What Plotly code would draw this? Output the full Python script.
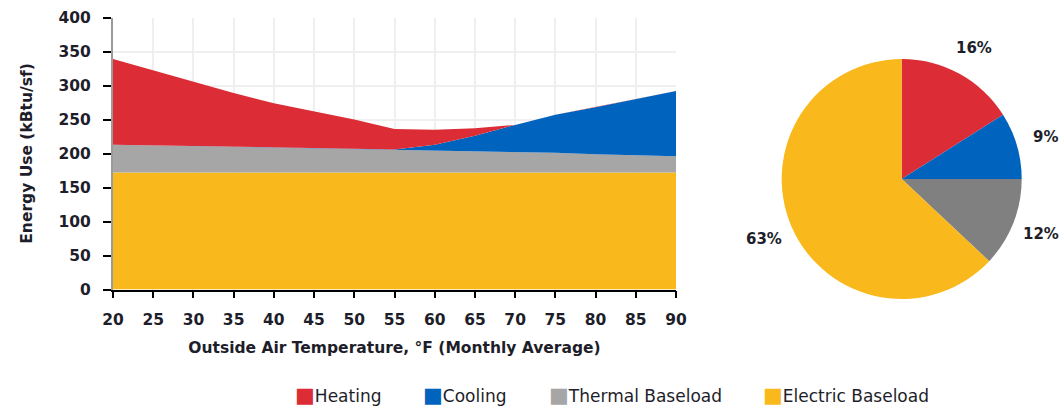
import math
import plotly.graph_objects as go

# Monthly-average outdoor temperature bins (°F)
temps = [20, 25, 30, 35, 40, 45, 50, 55, 60, 65, 70, 75, 80, 85, 90]

# Energy use by end use (kBtu/sf), stacked bottom-up
electric_baseload = [172, 172, 172, 172, 172, 172, 172, 172, 172, 172, 172, 172, 172, 172, 172]
thermal_baseload = [41, 40, 39, 38, 37, 36, 35, 34, 33, 32, 31, 29, 27, 25, 24]
cooling = [0, 0, 0, 0, 0, 0, 0, 0, 8, 22, 39, 56, 69, 83, 96]
heating = [126, 110, 94, 79, 65, 54, 43, 30, 22, 11, 0, 0, 0, 0, 0]

# Annual share by end use (%)
share_labels = ["Heating", "Cooling", "Thermal Baseload", "Electric Baseload"]
share_values = [16, 9, 12, 63]

y_ticks = [0, 50, 100, 150, 200, 250, 300, 350, 400]

RED = "#DC2D37"
BLUE = "#0063BE"
GRAY = "#A6A6A6"
PIE_GRAY = "#808080"
YELLOW = "#F9B81C"
TXT = "#1E1E2A"
FONT = "DejaVu Sans"

W, H = 1064, 408

fig = go.Figure()

stack = [
    ("Electric Baseload", electric_baseload, YELLOW),
    ("Thermal Baseload", thermal_baseload, GRAY),
    ("Cooling", cooling, BLUE),
    ("Heating", heating, RED),
]
for name, vals, col in stack:
    fig.add_trace(go.Scatter(
        x=temps, y=vals, name=name, stackgroup="energy",
        mode="lines", line=dict(width=0, color=col), fillcolor=col,
        showlegend=False, hoverinfo="x+y+name",
    ))

# Pie of annual shares, placed right of the area chart
pie_cx, pie_cy, pie_r = 901.7, 179.0, 120.0
pie_colors = [RED, BLUE, PIE_GRAY, YELLOW]
fig.add_trace(go.Pie(
    labels=share_labels, values=share_values,
    marker=dict(colors=pie_colors, line=dict(width=0)),
    sort=False, direction="clockwise", rotation=0,
    textinfo="none", showlegend=False,
    domain=dict(x=[(pie_cx - pie_r) / W, (pie_cx + pie_r) / W],
                y=[(H - pie_cy - pie_r) / H, (H - pie_cy + pie_r) / H]),
))

annotations = []

# Percentage labels just outside each slice, at the slice's mid angle
total = sum(share_values)
cum = 0.0
label_dist = pie_r * 1.25
for v in share_values:
    mid = (cum + v / 2) / total * 2 * math.pi
    cum += v
    px = pie_cx + label_dist * math.sin(mid)
    py = pie_cy - label_dist * math.cos(mid)
    annotations.append(dict(
        x=px / W, y=(H - py) / H, xref="paper", yref="paper",
        text=f"{v}%", showarrow=False, xanchor="center", yanchor="middle",
        font=dict(family=FONT, size=15, color=TXT, weight="bold"),
    ))

# Legend row along the bottom
legend_x = {"Heating": 294, "Cooling": 422, "Thermal Baseload": 548, "Electric Baseload": 762}
legend_colors = {"Heating": RED, "Cooling": BLUE, "Thermal Baseload": GRAY, "Electric Baseload": YELLOW}
for name in ["Heating", "Cooling", "Thermal Baseload", "Electric Baseload"]:
    annotations.append(dict(
        x=legend_x[name] / W, y=0, xref="paper", yref="paper",
        text=f'<span style="color:{legend_colors[name]};font-size:21px">■</span>{name}',
        showarrow=False, xanchor="left", yanchor="bottom", align="left",
        borderpad=0, font=dict(family=FONT, size=17, color=TXT),
    ))

x0, x1 = 113 / W, 676 / W
y0, y1 = (H - 289.5) / H, (H - 17.5) / H

axis_font = dict(family=FONT, size=15.5, color=TXT, weight="bold")

fig.update_layout(
    width=W, height=H,
    margin=dict(l=0, r=0, t=0, b=0),
    paper_bgcolor="white", plot_bgcolor="white",
    font=dict(family=FONT, color=TXT),
    xaxis=dict(
        domain=[x0, x1], range=[20, 90], tickvals=temps, automargin=False,
        showgrid=True, gridcolor="#EFEFEF", gridwidth=1.5,
        showline=True, linecolor="#000000", linewidth=1.5,
        ticks="outside", ticklen=7, tickcolor="#000000", tickwidth=1.5,
        ticklabelstandoff=8,
        tickfont=axis_font,
        title=dict(text="Outside Air Temperature, °F (Monthly Average)",
                   font=axis_font, standoff=14),
        zeroline=False, fixedrange=True,
    ),
    yaxis=dict(
        domain=[y0, y1], range=[0, 400], tickvals=y_ticks, automargin=False,
        showgrid=True, gridcolor="#EFEFEF", gridwidth=1.5,
        showline=True, linecolor="#9A9A9A", linewidth=2,
        ticks="outside", ticklen=8, tickcolor="#000000", tickwidth=1.5,
        ticklabelstandoff=9,
        tickfont=axis_font,
        title=dict(text="Energy Use (kBtu/sf)", font=axis_font, standoff=22),
        zeroline=False, fixedrange=True,
    ),
    annotations=annotations,
)

fig.write_html("out.html")
